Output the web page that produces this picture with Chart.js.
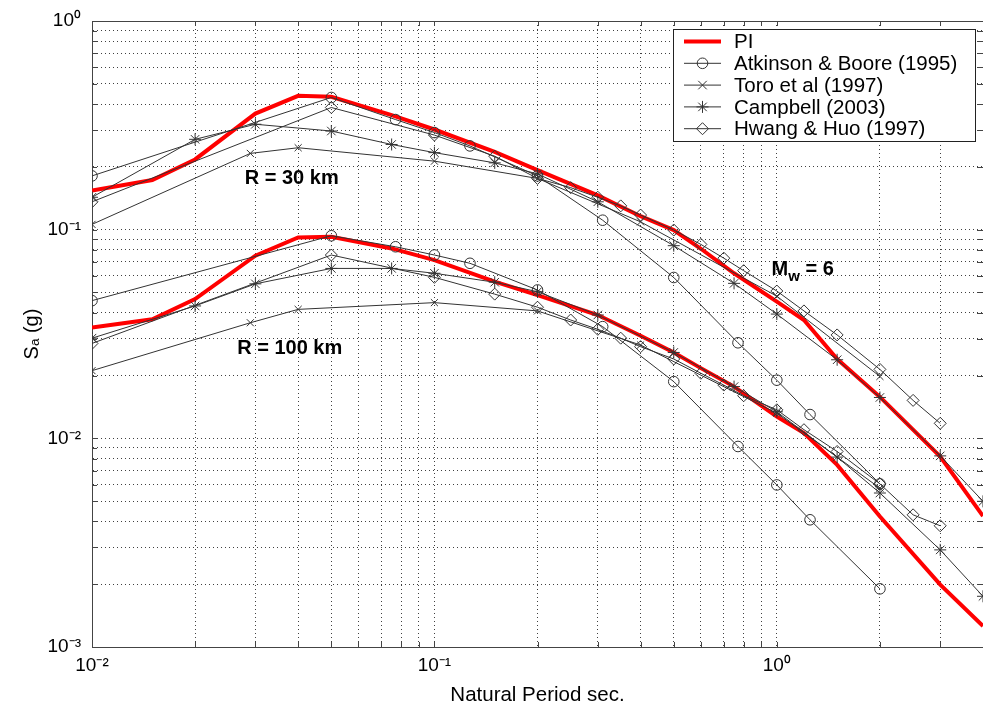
<!DOCTYPE html>
<html><head><meta charset="utf-8">
<script src="https://cdn.jsdelivr.net/npm/chart.js@4.4.1/dist/chart.umd.min.js"></script>
<style>html,body{margin:0;padding:0;background:#fff;}canvas{display:block;}</style>
</head><body>
<canvas id="c" width="983" height="711"></canvas>
<script>
// ---- data ----
const piPeriods = [0.01,0.015,0.02,0.03,0.04,0.05,0.075,0.1,0.15,0.2,0.3,0.4,0.5,0.6,0.75,1.0,1.2,1.5,2.0,3.0,4.0];
const piR30  = [0.154,0.173,0.217,0.360,0.438,0.433,0.354,0.302,0.236,0.193,0.146,0.116,0.0996,0.081,0.0618,0.0452,0.0369,0.0240,0.0158,0.00818,0.00424];
const piR100 = [0.034,0.0372,0.0465,0.075,0.0918,0.0925,0.0813,0.0715,0.0563,0.0486,0.039,0.031,0.0258,0.0217,0.0177,0.0127,0.0106,0.00746,0.00422,0.00199,0.00126];

const abPeriods = [0.01,0.05,0.077,0.1,0.127,0.2,0.31,0.5,0.77,1.0,1.25,2.0];
const abR30  = [0.181,0.43,0.337,0.292,0.252,0.181,0.111,0.059,0.0287,0.019,0.013,0.00605];
const abR100 = [0.0457,0.0935,0.0828,0.0756,0.069,0.0514,0.0343,0.0187,0.00914,0.00598,0.00407,0.0019];

const toroPeriods = [0.01,0.029,0.04,0.1,0.2,0.4,1.0,2.0];
const toroR30  = [0.106,0.232,0.247,0.213,0.176,0.109,0.048,0.0198];
const toroR100 = [0.0211,0.0358,0.0415,0.0447,0.0408,0.028,0.0132,0.00577];

const campPeriods = [0.01,0.02,0.03,0.05,0.075,0.1,0.15,0.2,0.3,0.5,0.75,1.0,1.5,2.0,3.0,4.0];
const campR30  = [0.143,0.271,0.32,0.297,0.256,0.234,0.209,0.185,0.136,0.0838,0.0553,0.0394,0.0238,0.0157,0.00824,0.00499];
const campR100 = [0.0302,0.0431,0.055,0.0652,0.0652,0.0618,0.056,0.0504,0.039,0.0258,0.0177,0.0134,0.00813,0.00547,0.00292,0.00175];

const hhPeriods = [0.01,0.05,0.1,0.15,0.2,0.25,0.3,0.35,0.4,0.5,0.6,0.7,0.8,1.0,1.2,1.5,2.0,2.5,3.0];
const hhR30  = [0.136,0.385,0.284,0.225,0.176,0.159,0.143,0.13,0.1175,0.0996,0.085,0.073,0.0636,0.0508,0.0408,0.0313,0.0214,0.0152,0.0118];
const hhR100 = [0.0285,0.0756,0.0591,0.0491,0.0425,0.0369,0.0333,0.0302,0.0275,0.024,0.0205,0.018,0.016,0.0137,0.011,0.00865,0.00605,0.0043,0.00381];

const legendLabels = ['PI','Atkinson & Boore (1995)','Toro et al (1997)','Campbell (2003)','Hwang & Huo (1997)'];
const xTickValues = [0.01,0.1,1];
const xTickLabels = ['10\u207B\u00B2','10\u207B\u00B9','10\u2070'];
const yTickValues = [0.001,0.01,0.1,1];
const yTickLabels = ['10\u207B\u00B3','10\u207B\u00B2','10\u207B\u00B9','10\u2070'];
const xTitle = 'Natural Period sec.';
const yTitle = 'S\u2090 (g)';

// ---- styling ----
const FONT = '"Liberation Sans", Arial, Helvetica, sans-serif';
const LINE = '#333';
const RED = '#ff0000';
const styles = [
  {style: false, color: RED, width: 4, r: 0},
  {style: 'circle', color: LINE, width: 1, r: 5.3},
  {style: 'crossRot', color: LINE, width: 1, r: 5},
  {style: 'star', color: LINE, width: 1, r: 6},
  {style: 'rectRot', color: LINE, width: 1, r: 6}
];
const series = [
  [piPeriods, piR30, piR100],
  [abPeriods, abR30, abR100],
  [toroPeriods, toroR30, toroR100],
  [campPeriods, campR30, campR100],
  [hhPeriods, hhR30, hhR100]
];

const datasets = [];
series.forEach((s, k) => {
  const st = styles[k];
  [s[1], s[2]].forEach((ys, j) => {
    datasets.push({
      label: legendLabels[k] + (j === 0 ? ' R=30' : ' R=100'),
      data: s[0].map((x, i) => ({x: x, y: ys[i]})),
      showLine: true,
      borderColor: st.color,
      borderWidth: st.width,
      pointStyle: st.style,
      pointRadius: st.r,
      pointBorderWidth: 1,
      pointBorderColor: st.color,
      pointBackgroundColor: 'rgba(0,0,0,0)',
      tension: 0,
      order: k === 0 ? 10 : 0
    });
  });
});

function decadeTicks(min, max) {
  const out = [];
  for (let e = Math.floor(Math.log10(min)); e <= Math.ceil(Math.log10(max)); e++) {
    for (let m = 1; m <= 9; m++) {
      const v = +(m * Math.pow(10, e)).toPrecision(6);
      if (v >= min * 0.9999 && v <= max * 1.0001) out.push(v);
    }
  }
  return out;
}
function labelFor(vals, labs) {
  return function (value) {
    const i = vals.findIndex(v => Math.abs(v - value) / v < 1e-6);
    return i >= 0 ? labs[i] : '';
  };
}

function drawMarker(ctx, style, x, y, r) {
  ctx.beginPath();
  if (style === 'circle') {
    ctx.arc(x, y, r, 0, Math.PI * 2);
  } else if (style === 'crossRot') {
    const d = r * Math.SQRT1_2 * 1.2;
    ctx.moveTo(x - d, y - d); ctx.lineTo(x + d, y + d);
    ctx.moveTo(x - d, y + d); ctx.lineTo(x + d, y - d);
  } else if (style === 'star') {
    const d = r * Math.SQRT1_2;
    ctx.moveTo(x - r, y); ctx.lineTo(x + r, y);
    ctx.moveTo(x, y - r); ctx.lineTo(x, y + r);
    ctx.moveTo(x - d, y - d); ctx.lineTo(x + d, y + d);
    ctx.moveTo(x - d, y + d); ctx.lineTo(x + d, y - d);
  } else if (style === 'rectRot') {
    ctx.moveTo(x - r, y); ctx.lineTo(x, y - r); ctx.lineTo(x + r, y); ctx.lineTo(x, y + r); ctx.closePath();
  }
  ctx.stroke();
}

const extras = {
  id: 'extras',
  afterDatasetsDraw(chart) {
    const {ctx, chartArea: a, scales: {x, y}} = chart;
    ctx.save();
    // top border and inward ticks
    ctx.strokeStyle = '#444'; ctx.lineWidth = 1;
    ctx.beginPath();
    ctx.moveTo(a.left, a.top + 0.5); ctx.lineTo(a.right, a.top + 0.5);
    x.ticks.forEach(t => {
      const px = Math.round(x.getPixelForValue(t.value)) + 0.5;
      ctx.moveTo(px, a.bottom); ctx.lineTo(px, a.bottom - 5);
      ctx.moveTo(px, a.top); ctx.lineTo(px, a.top + 5);
    });
    y.ticks.forEach(t => {
      const py = Math.round(y.getPixelForValue(t.value)) + 0.5;
      ctx.moveTo(a.left, py); ctx.lineTo(a.left + 5, py);
      ctx.moveTo(a.right, py); ctx.lineTo(a.right - 6, py);
    });
    ctx.stroke();

    // annotations
    ctx.fillStyle = '#000';
    ctx.textBaseline = 'middle';
    ctx.textAlign = 'center';
    ctx.font = 'bold 20px ' + FONT;
    ctx.fillText('R = 30 km', x.getPixelForValue(0.0383), y.getPixelForValue(0.175));
    ctx.fillText('R = 100 km', x.getPixelForValue(0.0378), y.getPixelForValue(0.0271));
    ctx.textAlign = 'left';
    let mx = x.getPixelForValue(0.965), my = y.getPixelForValue(0.0648);
    ctx.fillText('M', mx, my);
    mx += ctx.measureText('M').width;
    ctx.font = 'bold 15px ' + FONT;
    ctx.fillText('w', mx, my + 8);
    mx += ctx.measureText('w').width;
    ctx.font = 'bold 20px ' + FONT;
    ctx.fillText(' = 6', mx, my);

    // legend
    const L = {x: 673, y: 29, w: 302, h: 112};
    ctx.fillStyle = '#fff';
    ctx.fillRect(L.x, L.y, L.w, L.h);
    ctx.strokeStyle = '#222'; ctx.lineWidth = 1;
    ctx.strokeRect(L.x + 0.5, L.y + 0.5, L.w, L.h);
    ctx.font = '20.5px ' + FONT;
    ctx.textAlign = 'left'; ctx.textBaseline = 'middle';
    legendLabels.forEach((lab, k) => {
      const st = styles[k];
      const ry = L.y + 12.5 + k * 21.8;
      ctx.strokeStyle = st.color; ctx.lineWidth = st.width;
      ctx.beginPath(); ctx.moveTo(L.x + 11, ry); ctx.lineTo(L.x + 48, ry); ctx.stroke();
      if (st.style) { ctx.lineWidth = 1; drawMarker(ctx, st.style, L.x + 29.5, ry, st.r); }
      ctx.fillStyle = '#000';
      ctx.fillText(lab, L.x + 61, ry + 1);
    });
    ctx.restore();
  }
};

new Chart(document.getElementById('c'), {
  type: 'scatter',
  data: {datasets: datasets},
  options: {
    responsive: false,
    animation: false,
    devicePixelRatio: 1,
    layout: {autoPadding: false, padding: {top: 21, right: 0, left: 0, bottom: 0}},
    plugins: {legend: {display: false}, tooltip: {enabled: false}},
    scales: {
      x: {
        type: 'logarithmic', position: 'bottom', min: 0.01, max: 4,
        afterBuildTicks: s => { s.ticks = decadeTicks(0.01, 4).map(v => ({value: v})); },
        afterFit: s => { s.height = 64; s.paddingLeft = 0; s.paddingRight = 0; },
        ticks: {callback: labelFor(xTickValues, xTickLabels), autoSkip: false, maxRotation: 0,
                color: '#000', font: {family: FONT, size: 19}, padding: 7},
        grid: {color: 'rgba(0,0,0,0.75)', lineWidth: 1, drawTicks: false},
        border: {display: true, color: '#444', width: 1, dash: [1, 3]},
        title: {display: true, text: xTitle, color: '#000', font: {family: FONT, size: 20.5}, padding: {top: 0, bottom: 3}}
      },
      y: {
        type: 'logarithmic', position: 'left', min: 0.001, max: 1,
        afterBuildTicks: s => { s.ticks = decadeTicks(0.001, 1).map(v => ({value: v})); },
        afterFit: s => { s.width = 92; s.paddingTop = 0; s.paddingBottom = 0; },
        ticks: {callback: labelFor(yTickValues, yTickLabels), autoSkip: false,
                color: '#000', font: {family: FONT, size: 19}, padding: 11},
        grid: {color: 'rgba(0,0,0,0.75)', lineWidth: 1, drawTicks: false},
        border: {display: true, color: '#444', width: 1, dash: [1, 3]},
        title: {display: true, text: yTitle, color: '#000', font: {family: FONT, size: 20}, padding: {top: 20, bottom: 0}}
      }
    }
  },
  plugins: [extras]
});
</script>
</body></html>
